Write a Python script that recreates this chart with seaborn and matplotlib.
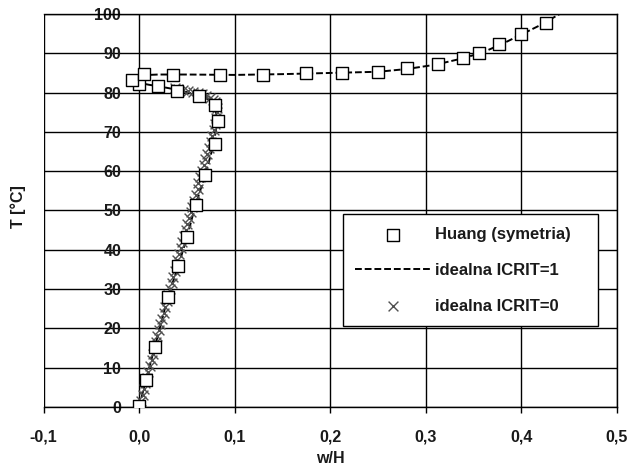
import matplotlib
matplotlib.use("Agg")
import matplotlib.pyplot as plt
import seaborn as sns
import pandas as pd
from matplotlib.ticker import FuncFormatter

# Huang (symetria) - square markers
huang_x = [0.000, 0.007, 0.016, 0.030, 0.041, 0.050, 0.059, 0.069, 0.079, 0.082, 0.079,
           0.063, 0.039, 0.020, 0.000, -0.008, 0.005, 0.035, 0.085, 0.129, 0.175, 0.212,
           0.250, 0.280, 0.313, 0.339, 0.356, 0.376, 0.400, 0.426]
huang_T = [0.3, 6.9, 15.3, 27.9, 35.9, 43.3, 51.5, 59.1, 66.9, 72.9, 76.8,
           79.1, 80.5, 81.8, 82.2, 83.2, 84.7, 84.6, 84.4, 84.5, 85.0, 85.1,
           85.3, 86.2, 87.3, 88.9, 90.2, 92.3, 94.8, 97.6]

# idealna ICRIT=1 - dashed line
icrit1_x = [0.000, 0.007, 0.016, 0.030, 0.041, 0.050, 0.059, 0.069, 0.077, 0.080, 0.081,
            0.079, 0.070, 0.055, 0.040, 0.025, 0.010, 0.000, -0.006, 0.000, 0.020, 0.050,
            0.100, 0.150, 0.200, 0.250, 0.280, 0.310, 0.340, 0.360, 0.380, 0.400, 0.420, 0.440]
icrit1_T = [0.0, 7.0, 15.0, 28.0, 36.0, 43.3, 51.5, 59.0, 66.0, 70.0, 74.0,
            77.0, 78.6, 79.8, 80.7, 81.4, 82.0, 82.5, 83.4, 84.4, 84.6, 84.6,
            84.5, 84.7, 85.0, 85.3, 86.0, 87.1, 88.8, 90.3, 92.4, 94.8, 97.2, 100.0]

# idealna ICRIT=0 - x markers
icrit0_x = [0.000, 0.002, 0.004, 0.005, 0.006, 0.008, 0.009, 0.011, 0.013, 0.014, 0.016,
            0.018, 0.019, 0.021, 0.022, 0.024, 0.026, 0.027, 0.029, 0.030, 0.032, 0.034,
            0.035, 0.037, 0.039, 0.040, 0.042, 0.044, 0.045, 0.047, 0.049, 0.050, 0.052,
            0.054, 0.055, 0.057, 0.059, 0.061, 0.062, 0.064, 0.066, 0.068, 0.069, 0.071,
            0.073, 0.075, 0.076, 0.078, 0.079, 0.080, 0.081, 0.081, 0.080, 0.079, 0.077,
            0.074, 0.070, 0.066, 0.061, 0.056, 0.051, 0.046, 0.041, 0.037]
icrit0_T = [0.0, 1.5, 3.0, 4.5, 6.0, 7.5, 9.0, 10.5, 12.0, 13.5, 15.0,
            16.5, 18.0, 19.5, 21.0, 22.5, 24.0, 25.5, 27.0, 28.5, 30.0, 31.5,
            33.0, 34.5, 36.0, 37.5, 39.0, 40.5, 42.0, 43.5, 45.0, 46.5, 48.0,
            49.5, 51.0, 52.5, 54.0, 55.5, 57.0, 58.5, 60.0, 61.5, 63.0, 64.5,
            66.0, 67.5, 69.0, 70.5, 72.0, 73.5, 75.0, 76.0, 77.0, 77.6, 78.2,
            78.7, 79.2, 79.6, 79.9, 80.2, 80.5, 80.7, 80.9, 81.1]

x_ticks = [-0.1, 0.0, 0.1, 0.2, 0.3, 0.4, 0.5]
y_ticks = [0, 10, 20, 30, 40, 50, 60, 70, 80, 90, 100]

sns.set_theme(style="white")
plt.rcParams['font.family'] = ['Liberation Sans', 'DejaVu Sans']
plt.rcParams['font.weight'] = 'bold'

fig = plt.figure(figsize=(6.31, 4.70), dpi=100)
ax = fig.add_axes([43.7 / 631, 1 - 407 / 470, (617 - 43.7) / 631, (407 - 14) / 470])

df_h = pd.DataFrame({"x": huang_x, "T": huang_T})
df_1 = pd.DataFrame({"x": icrit1_x, "T": icrit1_T})
df_0 = pd.DataFrame({"x": icrit0_x, "T": icrit0_T})

sns.lineplot(data=df_1, x="x", y="T", sort=False, estimator=None, ax=ax, color="black",
             linewidth=1.4, linestyle=(0, (3.5, 1.5)), zorder=3,
             label="idealna ICRIT=1")
sns.scatterplot(data=df_0, x="x", y="T", ax=ax, marker="x", s=50, color="#505050",
                linewidth=1.0, zorder=4, label="idealna ICRIT=0")
sns.scatterplot(data=df_h, x="x", y="T", ax=ax, marker="s", s=70, facecolor="white",
                edgecolor="black", linewidth=1.0, zorder=5, label="Huang (symetria)")

ax.set_xlim(-0.1, 0.5)
ax.set_ylim(0, 100)
ax.set_xticks(x_ticks)
ax.set_yticks(y_ticks)
ax.xaxis.set_major_formatter(FuncFormatter(lambda v, p: f"{v:.1f}".replace(".", ",")))
ax.grid(True, color="black", linewidth=1.0)
ax.set_axisbelow(True)

ax.spines['left'].set_position(('data', 0))
for s in ax.spines.values():
    s.set_color("black")
    s.set_linewidth(1.0)
ax.spines['left'].set_visible(False)

ax.tick_params(axis='x', direction='out', length=4, width=1, color='black',
               pad=12, labelsize=11.5, labelcolor='#1a1a1a', bottom=True)
ax.tick_params(axis='y', length=0, pad=13, labelsize=11.5, labelcolor='#1a1a1a', left=True)
for lab in ax.get_xticklabels() + ax.get_yticklabels():
    lab.set_fontweight('bold')

ax.set_xlabel("w/H", fontsize=11.5, fontweight='bold', color='#1a1a1a', labelpad=5)
ax.set_ylabel("T [°C]", fontsize=11.5, fontweight='bold', color='#1a1a1a')
ax.yaxis.set_label_coords(-0.031, 0.51)

handles, labels = ax.get_legend_handles_labels()
order = [labels.index("Huang (symetria)"), labels.index("idealna ICRIT=1"),
         labels.index("idealna ICRIT=0")]
leg = ax.legend([handles[i] for i in order], [labels[i] for i in order],
                loc='lower left', bbox_to_anchor=(0.522, 0.206, 0.445, 0.283),
                mode='expand', borderaxespad=0, frameon=True, fancybox=False,
                edgecolor='black', framealpha=1, handlelength=4.5, handletextpad=0.3,
                borderpad=0.75, labelspacing=1.25, prop={'weight': 'bold', 'size': 12})
leg.get_frame().set_linewidth(1.0)
for t in leg.get_texts():
    t.set_color('#1a1a1a')

fig.savefig("out.png", dpi=100, facecolor="white")
